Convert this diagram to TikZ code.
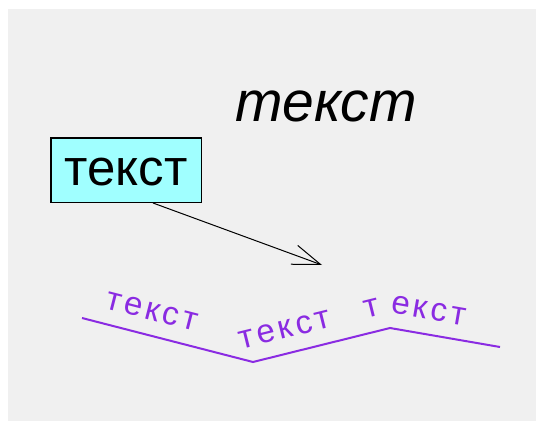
\documentclass[tikz,border=0pt]{standalone}
\usepackage{fontspec}
\setmainfont{Liberation Sans}
\newfontfamily\lsans{Liberation Sans}
\usetikzlibrary{arrows.meta,decorations.text,calc}
\definecolor{bgray}{RGB}{240,240,240}
\definecolor{boxcyan}{RGB}{160,255,255}
\definecolor{violetline}{RGB}{138,43,226}
\tikzset{
  labelbox/.style={draw=black, line width=1.5pt, fill=boxcyan, minimum width=150.5pt, minimum height=64.5pt, inner sep=0pt, text height=30pt, text depth=0pt, font=\lsans\fontsize{51}{51}\selectfont},
  titletext/.style={inner sep=0pt, font=\lsans\itshape\fontsize{57}{57}\selectfont},
  pointer/.style={line width=1pt, -{Straight Barb[length=28pt,width=20pt]}},
  zigzag/.style={violetline, line width=2pt},
  pathtext/.style={decorate, decoration={text along path, raise=15pt, text color=violetline, text align={left indent=#1}}}
}
\begin{document}
\begin{tikzpicture}[x=1pt,y=-1pt]
\useasboundingbox (0,0) rectangle (536,423);
\fill[white] (0,0) rectangle (536,423);
\fill[bgray] (8,9) rectangle (536,421);
\node[labelbox] (box) at (126,170) {текст};
\node[titletext] (title) at (326,106) {текст};
\coordinate (tip) at (322,265);
\draw[pointer] ($(box.south west)+(103,0)$) -- (tip);
\coordinate (p1) at (82,318);
\coordinate (p2) at (253,362);
\coordinate (p3) at (390,328);
\coordinate (p4) at (500,347);
\coordinate (p2x) at ($(p2)!-12pt!(p3)$);
\draw[zigzag] (p1) -- (p2) -- (p3) -- (p4);
\path[pathtext=19pt, decoration={text={|\lsans\fontsize{33}{33}\selectfont|{т\kern3.5pt}{е\kern3.5pt}{к\kern3.5pt}{с\kern3.5pt}{т}}}] (p1) -- (p2);
\path[pathtext=3.8pt, decoration={text={|\lsans\fontsize{33}{33}\selectfont|{т\kern3.5pt}{е\kern3.5pt}{к\kern3.5pt}{с\kern3.5pt}{т\kern3.5pt}{\kern31.5pt}{т\kern3.5pt}{е\kern3.5pt}{к\kern3.5pt}{с\kern3.5pt}{т}}}] (p2x) -- (p3) -- (p4);
\end{tikzpicture}
\end{document}
